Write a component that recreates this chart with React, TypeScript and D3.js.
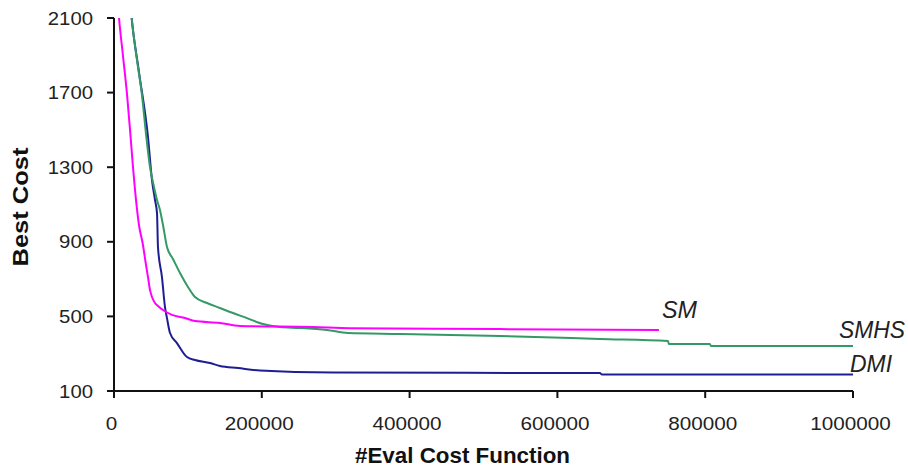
import React from "react";
import * as d3 from "d3";

// ---- data (x = #evaluations, y = best cost) ----
const smEvals = [2000, 6800, 12200, 17600, 21700, 25700, 29800, 33800, 39200, 43300, 46000, 48700, 51400, 55500, 59500, 66300, 78500, 96100, 109600, 143400, 170500, 269200, 319300, 522300, 737400];
const smCost = [2360, 2100, 1896, 1692, 1500, 1301, 1124, 990, 883, 776, 711, 642, 604, 572, 556, 534, 508, 491, 475, 465, 449, 443, 437, 432, 427];

const smhsEvals = [19000, 23900, 31100, 37500, 44200, 48700, 54100, 58200, 62200, 66300, 71700, 79800, 89300, 100100, 109600, 125800, 143400, 161000, 180000, 201600, 224600, 251700, 288200, 316600, 387000, 522300, 657600, 749600, 750900, 806400, 807700, 1000000];
const smhsCost = [2330, 2100, 1875, 1698, 1446, 1301, 1194, 1124, 1071, 990, 872, 808, 733, 658, 604, 572, 545, 518, 491, 459, 443, 438, 427, 411, 406, 395, 379, 368, 352, 352, 341, 341];

const dmiEvals = [19000, 23900, 33800, 46000, 51400, 55500, 58200, 59500, 64900, 69000, 71700, 75800, 85200, 98800, 109600, 129900, 143400, 167800, 197500, 296300, 657600, 660300, 1000000];
const dmiCost = [2330, 2100, 1810, 1462, 1231, 1124, 1054, 872, 711, 550, 491, 411, 357, 282, 266, 250, 234, 223, 210, 199, 196, 188, 188];

const yTicks = [100, 500, 900, 1300, 1700, 2100];
const xTicks = [0, 200000, 400000, 600000, 800000, 1000000];

const seriesNames = ["SM", "SMHS", "DMI"];
const seriesColors = ["#ff00ff", "#339966", "#1e1e94"];

export default function App() {
  const left = 114, right = 853, top = 18, bottom = 391;
  const x = d3.scaleLinear().domain([0, 1000000]).range([left, right]);
  const y = d3.scaleLinear().domain([100, 2100]).range([bottom, top]);

  const line = d3
    .line<[number, number]>()
    .x((d) => x(d[0]))
    .y((d) => y(d[1]))
    .curve(d3.curveMonotoneX);

  const series = [
    { name: seriesNames[0], color: seriesColors[0], pts: smEvals.map((e, i) => [e, smCost[i]] as [number, number]), lx: 662, ly: 318, len: 35 },
    { name: seriesNames[1], color: seriesColors[1], pts: smhsEvals.map((e, i) => [e, smhsCost[i]] as [number, number]), lx: 839, ly: 338, len: 66 },
    { name: seriesNames[2], color: seriesColors[2], pts: dmiEvals.map((e, i) => [e, dmiCost[i]] as [number, number]), lx: 850, ly: 372, len: 42 },
  ];

  const font = "Arial, 'Liberation Sans', sans-serif";

  return (
    <svg
      width={908}
      height={470}
      style={{ position: "absolute", left: 0, top: 0, background: "#fff" }}
      fontFamily={font}
    >
      <defs>
        <clipPath id="plot">
          <rect x={left} y={top} width={right - left} height={bottom - top} />
        </clipPath>
      </defs>
      <rect x={0} y={0} width={908} height={470} fill="#fff" />

      {/* lines: DMI first, then SMHS, then SM */}
      <g clipPath="url(#plot)">
        {[series[2], series[1], series[0]].map((s) => (
          <path key={s.name} d={line(s.pts) || ""} fill="none" stroke={s.color} strokeWidth={2} strokeLinejoin="miter" />
        ))}
      </g>

      {/* y axis */}
      <line x1={left} y1={top} x2={left} y2={bottom} stroke="#111" strokeWidth={2} />
      {yTicks.map((t) => (
        <g key={t}>
          <line x1={left - 7} x2={left} y1={y(t)} y2={y(t)} stroke="#111" strokeWidth={2} />
          <text
            x={93}
            y={y(t) + 6.5}
            textAnchor="end"
            fontSize={19}
            fill="#222"
            textLength={String(t).length * 11.3}
            lengthAdjust="spacingAndGlyphs"
          >
            {t}
          </text>
        </g>
      ))}

      {/* x axis */}
      <line x1={left} y1={bottom} x2={right} y2={bottom} stroke="#111" strokeWidth={2} />
      {xTicks.map((t) => (
        <g key={t}>
          <line x1={x(t)} x2={x(t)} y1={bottom} y2={bottom + 7} stroke="#111" strokeWidth={2} />
          <text
            x={x(t) - 2.5}
            y={430}
            textAnchor="middle"
            fontSize={19}
            fill="#222"
            textLength={String(t).length * 11.5}
            lengthAdjust="spacingAndGlyphs"
          >
            {t}
          </text>
        </g>
      ))}

      {/* axis titles */}
      <text
        x={462.5}
        y={463}
        textAnchor="middle"
        fontSize={22}
        fontWeight="bold"
        fill="#111"
        textLength={215}
        lengthAdjust="spacingAndGlyphs"
      >
        #Eval Cost Function
      </text>
      <text
        transform="translate(28,207) rotate(-90)"
        textAnchor="middle"
        fontSize={22}
        fontWeight="bold"
        fill="#111"
        textLength={119}
        lengthAdjust="spacingAndGlyphs"
      >
        Best Cost
      </text>

      {/* series labels */}
      {series.map((s) => (
        <text
          key={"l" + s.name}
          x={s.lx}
          y={s.ly}
          fontSize={24}
          fontStyle="italic"
          fill="#222"
          textLength={s.len}
          lengthAdjust="spacingAndGlyphs"
        >
          {s.name}
        </text>
      ))}
    </svg>
  );
}
